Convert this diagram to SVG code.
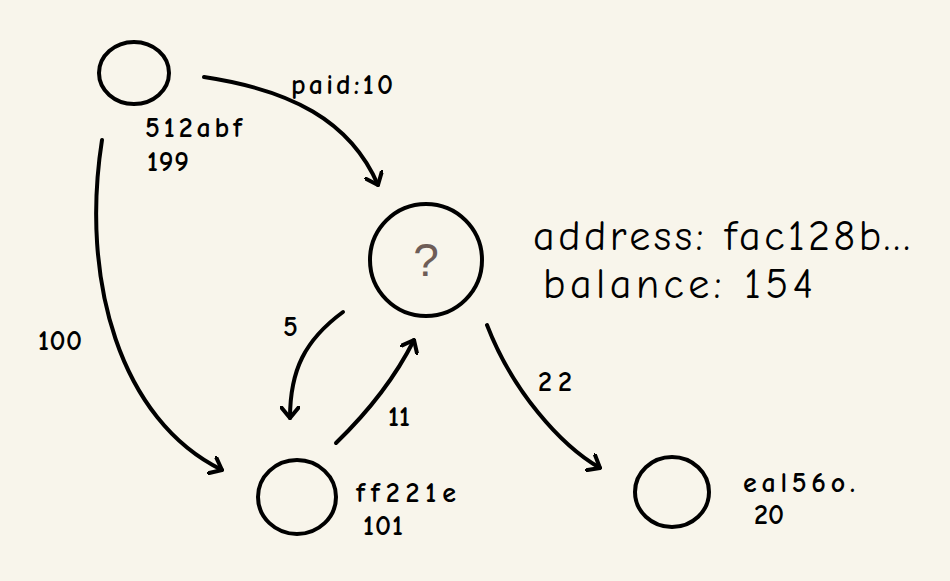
<svg xmlns="http://www.w3.org/2000/svg" width="950" height="581" viewBox="0 0 950 581">
<style>
.n{fill:none;stroke:#000;stroke-width:4;stroke-linecap:round}
.c{fill:none;stroke:#000;stroke-width:4;stroke-linecap:round;stroke-linejoin:round}
.t{font-family:"Comic Neue","Liberation Sans",sans-serif;font-size:28px;font-weight:bold;fill:#000}
.big{font-size:42px;font-weight:normal}
</style>
<defs>
<marker id="a" viewBox="-12 -10 14 20" refX="0" refY="0" markerWidth="14" markerHeight="20" markerUnits="userSpaceOnUse" orient="auto">
<polyline points="-11,-9 0,0 -11,9" fill="none" stroke="#000" stroke-width="4" stroke-linecap="round" stroke-linejoin="round"/>
</marker>
</defs>
<rect width="950" height="581" fill="#f8f5eb"/>
<g id="connectors">
<path class="c" d="M204,77 C290,90 350,120 378,185" marker-end="url(#a)"/>
<path class="c" d="M102,140 C80,280 120,420 222,470" marker-end="url(#a)"/>
<path class="c" d="M343,312 C305,340 290,370 290,418" marker-end="url(#a)"/>
<path class="c" d="M336,443 C368,412 395,378 414,340" marker-end="url(#a)"/>
<path class="c" d="M487,325 C512,390 560,445 600,468" marker-end="url(#a)"/>
<text class="t" x="291" y="94" textLength="102" lengthAdjust="spacing">paid:10</text>
<text class="t" x="38" y="350" textLength="44" lengthAdjust="spacing">100</text>
<text class="t" x="283" y="336">5</text>
<text class="t" x="388" y="426">11</text>
<text class="t" x="538" y="391" textLength="34" lengthAdjust="spacing">22</text>
</g>
<g id="node-512abf">
<ellipse class="n" cx="134" cy="73" rx="35" ry="31"/>
<text class="t" x="145" y="137" textLength="97" lengthAdjust="spacing">512abf</text>
<text class="t" x="147" y="171" textLength="42" lengthAdjust="spacing">199</text>
</g>
<g id="node-unknown">
<circle class="n" cx="426" cy="260" r="56"/>
<text x="426" y="276" text-anchor="middle" font-family="Liberation Sans, sans-serif" font-size="46" fill="#6e5d57">?</text>
<text class="t big" x="533" y="250" textLength="377" lengthAdjust="spacing">address:  fac128b...</text>
<text class="t big" x="543" y="298" textLength="270" lengthAdjust="spacing">balance:  154</text>
</g>
<g id="node-ff221e">
<ellipse class="n" cx="297" cy="497" rx="39" ry="37"/>
<text class="t" x="356" y="502" textLength="100" lengthAdjust="spacing">ff221e</text>
<text class="t" x="363" y="535" textLength="40" lengthAdjust="spacing">101</text>
</g>
<g id="node-eal560">
<ellipse class="n" cx="672" cy="492" rx="37" ry="35"/>
<text class="t" x="743" y="492" textLength="112" lengthAdjust="spacing">eal56o.</text>
<text class="t" x="754" y="524" textLength="30" lengthAdjust="spacing">20</text>
</g>
</svg>
